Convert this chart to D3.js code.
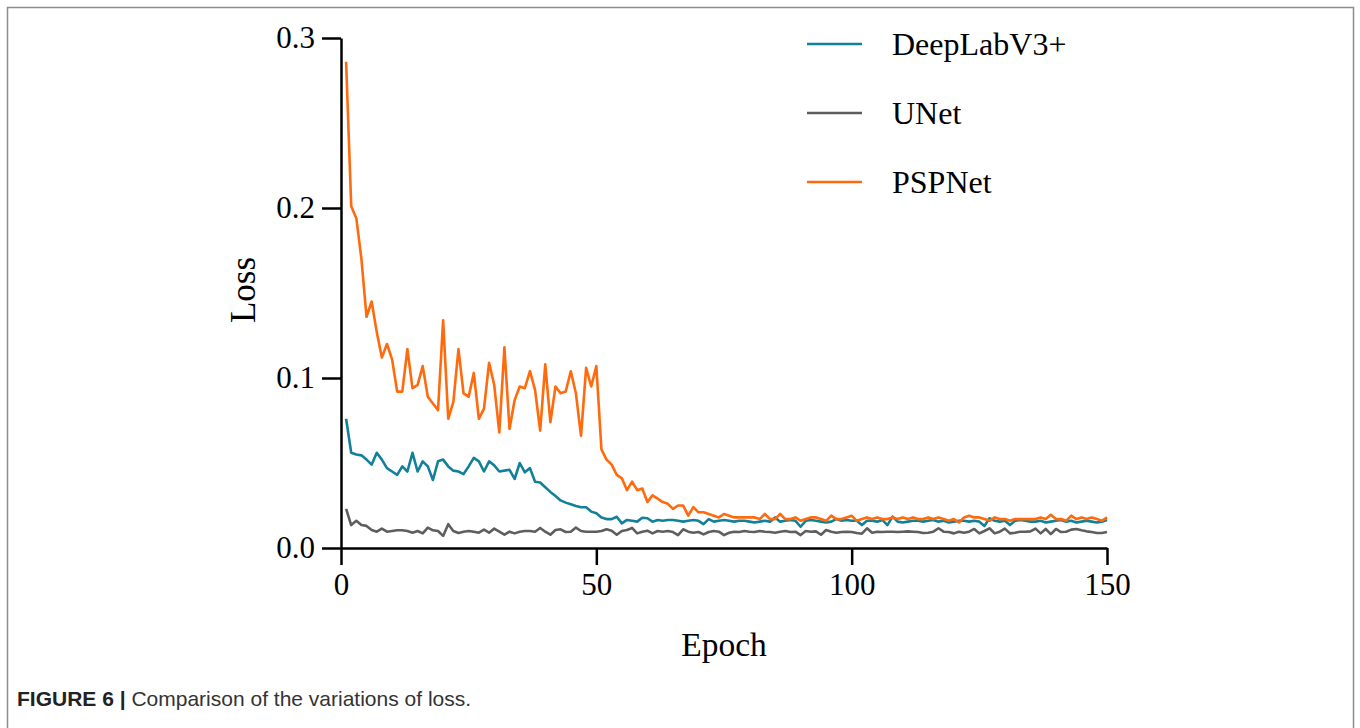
<!DOCTYPE html>
<html>
<head>
<meta charset="utf-8">
<script src="https://cdn.jsdelivr.net/npm/d3@7"></script>
<style>
  body { margin: 0; background: #fff; }
  svg { display: block; }
</style>
</head>
<body>
<div id="container"></div>
<script>
// loss per epoch (epochs 1..150)
const epochs = d3.range(1, 151);
const xTicks = [0, 50, 100, 150];
const yTicks = [0.0, 0.1, 0.2, 0.3];
const seriesNames = ["DeepLabV3+", "UNet", "PSPNet"];
const seriesColors = ["#13809a", "#5e5e5e", "#ff6a0d"];

const deeplab = [
  0.076, 0.056, 0.055, 0.0545, 0.052, 0.049, 0.056, 0.052, 0.047, 0.045,
  0.043, 0.048, 0.045, 0.056, 0.045, 0.051, 0.048, 0.040, 0.051, 0.052,
  0.048, 0.0455, 0.045, 0.0435, 0.048, 0.053, 0.051, 0.045, 0.051, 0.0486,
  0.045, 0.0455, 0.046, 0.0406, 0.050, 0.0445, 0.047, 0.039, 0.0385, 0.0357,
  0.033, 0.0306, 0.028, 0.0267, 0.0257, 0.0247, 0.024, 0.024, 0.0214, 0.0204,
  0.018, 0.017, 0.017, 0.0184, 0.0145, 0.0165, 0.016, 0.0155, 0.0178, 0.0175,
  0.0155, 0.0165, 0.016, 0.0165, 0.0165, 0.016, 0.0155, 0.016, 0.0165, 0.016,
  0.014, 0.017, 0.0155, 0.016, 0.0165, 0.016, 0.0155, 0.016, 0.016, 0.0155,
  0.015, 0.0155, 0.016, 0.0155, 0.018, 0.0155, 0.016, 0.0165, 0.016, 0.0125,
  0.016, 0.0165, 0.016, 0.0155, 0.015, 0.0155, 0.017, 0.016, 0.0165, 0.016,
  0.016, 0.0135, 0.016, 0.016, 0.0155, 0.0165, 0.0135, 0.0185, 0.0155, 0.015,
  0.0155, 0.016, 0.016, 0.0155, 0.016, 0.0165, 0.0155, 0.016, 0.015, 0.0155,
  0.016, 0.016, 0.0155, 0.016, 0.0155, 0.013, 0.0175, 0.016, 0.0155, 0.016,
  0.0135, 0.016, 0.0165, 0.016, 0.0155, 0.0155, 0.016, 0.015, 0.0155, 0.016,
  0.0165, 0.0155, 0.016, 0.015, 0.0155, 0.016, 0.0155, 0.015, 0.0155, 0.0165
];

const unet = [
  0.023, 0.0135, 0.016, 0.0135, 0.013, 0.0106, 0.0096, 0.0114, 0.0096, 0.010,
  0.0104, 0.0104, 0.010, 0.009, 0.010, 0.0086, 0.012, 0.0104, 0.010, 0.0071,
  0.014, 0.010, 0.0088, 0.0096, 0.010, 0.0096, 0.009, 0.0108, 0.009, 0.0114,
  0.0096, 0.0078, 0.0096, 0.0086, 0.0096, 0.010, 0.010, 0.0096, 0.0118, 0.0096,
  0.0078, 0.0106, 0.011, 0.0094, 0.0096, 0.012, 0.010, 0.0096, 0.0096, 0.0096,
  0.010, 0.011, 0.0102, 0.0078, 0.010, 0.0106, 0.0118, 0.0086, 0.0096, 0.0102,
  0.0086, 0.010, 0.0096, 0.010, 0.0094, 0.0076, 0.011, 0.0096, 0.009, 0.0094,
  0.008, 0.0094, 0.010, 0.0096, 0.0076, 0.009, 0.0096, 0.0094, 0.010, 0.0096,
  0.0094, 0.010, 0.0096, 0.0094, 0.009, 0.0096, 0.010, 0.0094, 0.0096, 0.0076,
  0.010, 0.0096, 0.0098, 0.0078, 0.0106, 0.0096, 0.009, 0.0094, 0.0096, 0.0094,
  0.0088, 0.0084, 0.0116, 0.009, 0.0096, 0.0094, 0.0096, 0.0096, 0.0094, 0.0096,
  0.0098, 0.0096, 0.0094, 0.0088, 0.009, 0.0096, 0.0116, 0.0096, 0.0094, 0.0086,
  0.0096, 0.009, 0.0096, 0.0112, 0.0086, 0.010, 0.0116, 0.0086, 0.0096, 0.0114,
  0.0086, 0.009, 0.0096, 0.0096, 0.0098, 0.0114, 0.0086, 0.0112, 0.0082, 0.0112,
  0.0094, 0.0096, 0.0108, 0.0112, 0.0104, 0.0098, 0.0094, 0.0088, 0.0088, 0.0094
];

const pspnet = [
  0.286, 0.201, 0.194, 0.170, 0.136, 0.145, 0.127, 0.112, 0.120, 0.111,
  0.092, 0.092, 0.117, 0.094, 0.096, 0.107, 0.089, 0.085, 0.081, 0.134,
  0.076, 0.086, 0.117, 0.091, 0.089, 0.103, 0.076, 0.082, 0.109, 0.096,
  0.068, 0.118, 0.070, 0.087, 0.095, 0.094, 0.104, 0.093, 0.069, 0.108,
  0.074, 0.095, 0.091, 0.092, 0.104, 0.091, 0.066, 0.106, 0.095, 0.107,
  0.058, 0.052, 0.049, 0.043, 0.041, 0.034, 0.039, 0.034, 0.035, 0.027,
  0.031, 0.029, 0.027, 0.026, 0.023, 0.025, 0.025, 0.019, 0.024, 0.021,
  0.021, 0.020, 0.019, 0.018, 0.020, 0.019, 0.018, 0.018, 0.018, 0.018,
  0.018, 0.017, 0.020, 0.017, 0.017, 0.020, 0.017, 0.017, 0.018, 0.016,
  0.017, 0.018, 0.018, 0.017, 0.016, 0.019, 0.017, 0.017, 0.018, 0.019,
  0.016, 0.017, 0.018, 0.017, 0.018, 0.017, 0.017, 0.018, 0.017, 0.018,
  0.017, 0.018, 0.017, 0.017, 0.018, 0.017, 0.018, 0.017, 0.016, 0.017,
  0.015, 0.018, 0.019, 0.018, 0.018, 0.017, 0.016, 0.018, 0.017, 0.017,
  0.016, 0.017, 0.017, 0.017, 0.017, 0.017, 0.018, 0.017, 0.0195, 0.017,
  0.017, 0.016, 0.019, 0.017, 0.018, 0.017, 0.018, 0.017, 0.016, 0.018
];

const allSeries = [deeplab, unet, pspnet];

const W = 1360, H = 728;
const serif = "'Liberation Serif', 'Times New Roman', serif";

const svg = d3.select("div#container").append("svg")
    .attr("width", W)
    .attr("height", H);

// figure frame
svg.append("rect")
    .attr("x", 7.5).attr("y", 7.5)
    .attr("width", 1346).attr("height", 760)
    .attr("fill", "none")
    .attr("stroke", "#8c8c8c")
    .attr("stroke-width", 1.5);

const x = d3.scaleLinear().domain([0, 150]).range([341, 1107]);
const y = d3.scaleLinear().domain([0, 0.3]).range([548, 38]);

const xaxis = d3.axisBottom(x)
    .tickValues(xTicks)
    .tickFormat(d3.format("d"))
    .tickSize(17)
    .tickSizeOuter(0)
    .tickPadding(8);

const yaxis = d3.axisLeft(y)
    .tickValues(yTicks)
    .tickFormat(d3.format(".1f"))
    .tickSize(19)
    .tickSizeOuter(0)
    .tickPadding(7);

const styleAxis = g => {
  g.select(".domain").attr("stroke", "#000").attr("stroke-width", 2.5);
  g.selectAll(".tick line").attr("stroke", "#000").attr("stroke-width", 2.5);
  g.selectAll(".tick text")
    .attr("fill", "#000")
    .style("font-family", serif)
    .style("font-size", "31px");
};

svg.append("g")
    .attr("transform", "translate(0," + y(0) + ")")
    .call(xaxis)
    .call(styleAxis);

svg.append("g")
    .attr("transform", "translate(" + x(0) + ",0)")
    .call(yaxis)
    .call(styleAxis);

// axis titles
svg.append("text")
    .attr("x", (x(0) + x(150)) / 2)
    .attr("y", 656)
    .attr("text-anchor", "middle")
    .style("font-family", serif)
    .style("font-size", "33.5px")
    .text("Epoch");

svg.append("text")
    .attr("transform", "translate(255," + 290 + ") rotate(-90)")
    .attr("text-anchor", "middle")
    .style("font-family", serif)
    .style("font-size", "35px")
    .text("Loss");

const line = d3.line()
    .x((d, i) => x(epochs[i]))
    .y(d => y(d));

// draw order: DeepLab, UNet, PSPNet on top
allSeries.forEach((s, k) => {
  svg.append("path")
      .attr("d", line(s))
      .attr("fill", "none")
      .attr("stroke", seriesColors[k])
      .attr("stroke-width", 2.6)
      .attr("stroke-linejoin", "round");
});

// legend
const legend = svg.append("g");
const legendY = [44, 113, 182];
seriesNames.forEach((name, k) => {
  legend.append("line")
      .attr("x1", 807).attr("x2", 862)
      .attr("y1", legendY[k]).attr("y2", legendY[k])
      .attr("stroke", seriesColors[k])
      .attr("stroke-width", 2.6);
  legend.append("text")
      .attr("x", 892)
      .attr("y", legendY[k] + 11)
      .style("font-family", serif)
      .style("font-size", "32px")
      .text(name);
});

// caption
const cap = svg.append("text")
    .attr("x", 17)
    .attr("y", 706)
    .style("font-family", "'Liberation Sans', Arial, sans-serif")
    .style("font-size", "21px")
    .attr("fill", "#333");
cap.append("tspan").style("font-weight", "bold").attr("fill", "#222").text("FIGURE 6 | ");
cap.append("tspan").text("Comparison of the variations of loss.");
</script>
</body>
</html>
